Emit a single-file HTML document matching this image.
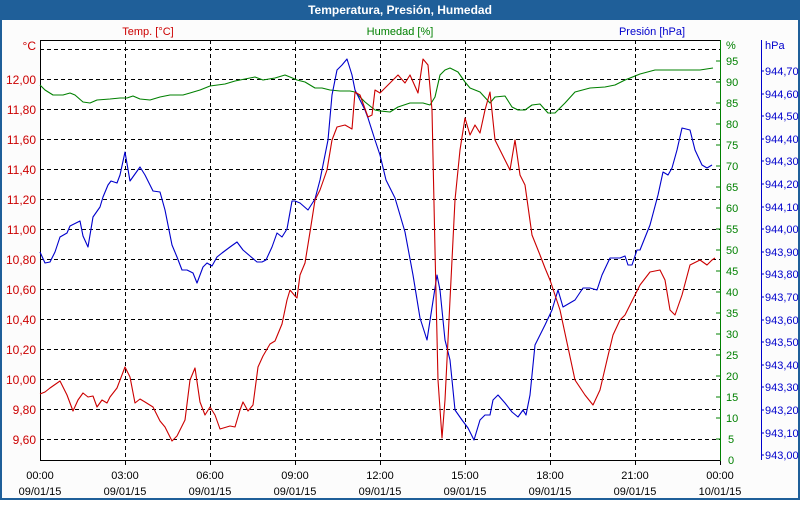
<!DOCTYPE html>
<html><head><style>
html,body{margin:0;padding:0;}
body{width:800px;height:500px;overflow:hidden;background:#fff;font-family:"Liberation Sans",sans-serif;}
</style></head><body>
<svg width="800" height="500" xmlns="http://www.w3.org/2000/svg" font-family="Liberation Sans, sans-serif" font-size="11">
<rect x="0" y="0" width="800" height="500" fill="#1f5f99"/>
<rect x="2" y="20" width="796" height="478" fill="#fcfcfc"/>
<text x="400" y="14" fill="#fff" font-weight="bold" font-size="12" text-anchor="middle">Temperatura, Presión, Humedad</text>
<rect x="40" y="40" width="680" height="420" fill="#fff"/>
<g stroke="#000" stroke-dasharray="4,3" stroke-width="1">
<line x1="40" y1="49.5" x2="720" y2="49.5"/><line x1="40" y1="79.5" x2="720" y2="79.5"/>
<line x1="40" y1="109.5" x2="720" y2="109.5"/><line x1="40" y1="139.5" x2="720" y2="139.5"/>
<line x1="40" y1="169.5" x2="720" y2="169.5"/><line x1="40" y1="199.5" x2="720" y2="199.5"/>
<line x1="40" y1="229.5" x2="720" y2="229.5"/><line x1="40" y1="259.5" x2="720" y2="259.5"/>
<line x1="40" y1="289.5" x2="720" y2="289.5"/><line x1="40" y1="319.5" x2="720" y2="319.5"/>
<line x1="40" y1="349.5" x2="720" y2="349.5"/><line x1="40" y1="379.5" x2="720" y2="379.5"/>
<line x1="40" y1="409.5" x2="720" y2="409.5"/><line x1="40" y1="439.5" x2="720" y2="439.5"/>
<line x1="125.5" y1="40" x2="125.5" y2="460"/><line x1="210.5" y1="40" x2="210.5" y2="460"/>
<line x1="295.5" y1="40" x2="295.5" y2="460"/><line x1="380.5" y1="40" x2="380.5" y2="460"/>
<line x1="465.5" y1="40" x2="465.5" y2="460"/><line x1="550.5" y1="40" x2="550.5" y2="460"/>
<line x1="635.5" y1="40" x2="635.5" y2="460"/>
</g>
<g stroke="#000"><line x1="40.5" y1="40" x2="40.5" y2="461"/><line x1="40" y1="460.5" x2="720" y2="460.5"/><line x1="40" y1="40.5" x2="720" y2="40.5"/></g>
<g stroke="#000">
<line x1="125.5" y1="460" x2="125.5" y2="465"/><line x1="210.5" y1="460" x2="210.5" y2="465"/><line x1="295.5" y1="460" x2="295.5" y2="465"/><line x1="380.5" y1="460" x2="380.5" y2="465"/><line x1="465.5" y1="460" x2="465.5" y2="465"/><line x1="550.5" y1="460" x2="550.5" y2="465"/><line x1="635.5" y1="460" x2="635.5" y2="465"/><line x1="720.5" y1="460" x2="720.5" y2="465"/>
</g>
<line x1="720.5" y1="40" x2="720.5" y2="461" stroke="#008000"/>
<line x1="761.5" y1="40" x2="761.5" y2="460" stroke="#0000cc"/>
<g fill="#cc0000" text-anchor="end" font-size="12">
<text x="36" y="50">°C</text>
<text x="36" y="84">12,00</text><text x="36" y="114">11,80</text><text x="36" y="144">11,60</text><text x="36" y="174">11,40</text><text x="36" y="204">11,20</text><text x="36" y="234">11,00</text><text x="36" y="264">10,80</text><text x="36" y="294">10,60</text><text x="36" y="324">10,40</text><text x="36" y="354">10,20</text><text x="36" y="384">10,00</text><text x="36" y="414">9,80</text><text x="36" y="444">9,60</text>
</g>
<text x="148" y="35" fill="#cc0000" text-anchor="middle">Temp. [°C]</text>
<text x="400" y="35" fill="#008000" text-anchor="middle">Humedad [%]</text>
<text x="652" y="35" fill="#0000cc" text-anchor="middle">Presión [hPa]</text>
<g fill="#008000" font-size="11">
<text x="726" y="49">%</text>
<text x="726" y="65">95</text><text x="726" y="86">90</text><text x="726" y="107">85</text><text x="726" y="128">80</text><text x="726" y="149">75</text><text x="726" y="170">70</text><text x="726" y="191">65</text><text x="726" y="212">60</text><text x="726" y="233">55</text><text x="726" y="254">50</text><text x="726" y="275">45</text><text x="726" y="296">40</text><text x="726" y="317">35</text><text x="726" y="338">30</text><text x="726" y="359">25</text><text x="726" y="380">20</text><text x="726" y="401">15</text><text x="726" y="422">10</text><text x="728" y="443">5</text><text x="728" y="464">0</text>
</g>
<g stroke="#008000">
<line x1="720" y1="61" x2="716" y2="61"/><line x1="720" y1="82" x2="716" y2="82"/><line x1="720" y1="103" x2="716" y2="103"/><line x1="720" y1="124" x2="716" y2="124"/><line x1="720" y1="145" x2="716" y2="145"/><line x1="720" y1="166" x2="716" y2="166"/><line x1="720" y1="187" x2="716" y2="187"/><line x1="720" y1="208" x2="716" y2="208"/><line x1="720" y1="229" x2="716" y2="229"/><line x1="720" y1="250" x2="716" y2="250"/><line x1="720" y1="271" x2="716" y2="271"/><line x1="720" y1="292" x2="716" y2="292"/><line x1="720" y1="313" x2="716" y2="313"/><line x1="720" y1="334" x2="716" y2="334"/><line x1="720" y1="355" x2="716" y2="355"/><line x1="720" y1="376" x2="716" y2="376"/><line x1="720" y1="397" x2="716" y2="397"/><line x1="720" y1="418" x2="716" y2="418"/><line x1="720" y1="439" x2="716" y2="439"/>
</g>
<g fill="#0000cc" font-size="11">
<text x="765" y="49">hPa</text>
<text x="765" y="75">944,70</text><text x="765" y="98">944,60</text><text x="765" y="120">944,50</text><text x="765" y="143">944,40</text><text x="765" y="165">944,30</text><text x="765" y="188">944,20</text><text x="765" y="211">944,10</text><text x="765" y="233">944,00</text><text x="765" y="256">943,90</text><text x="765" y="278">943,80</text><text x="765" y="301">943,70</text><text x="765" y="324">943,60</text><text x="765" y="346">943,50</text><text x="765" y="369">943,40</text><text x="765" y="391">943,30</text><text x="765" y="414">943,20</text><text x="765" y="437">943,10</text><text x="765" y="459">943,00</text>
</g>
<g stroke="#0000cc">
<line x1="761" y1="71" x2="764" y2="71"/><line x1="761" y1="94" x2="764" y2="94"/><line x1="761" y1="116" x2="764" y2="116"/><line x1="761" y1="139" x2="764" y2="139"/><line x1="761" y1="161" x2="764" y2="161"/><line x1="761" y1="184" x2="764" y2="184"/><line x1="761" y1="207" x2="764" y2="207"/><line x1="761" y1="229" x2="764" y2="229"/><line x1="761" y1="252" x2="764" y2="252"/><line x1="761" y1="274" x2="764" y2="274"/><line x1="761" y1="297" x2="764" y2="297"/><line x1="761" y1="320" x2="764" y2="320"/><line x1="761" y1="342" x2="764" y2="342"/><line x1="761" y1="365" x2="764" y2="365"/><line x1="761" y1="387" x2="764" y2="387"/><line x1="761" y1="410" x2="764" y2="410"/><line x1="761" y1="433" x2="764" y2="433"/><line x1="761" y1="455" x2="764" y2="455"/>
</g>
<g fill="#000" text-anchor="middle" font-size="11">
<text x="40" y="479">00:00</text><text x="40" y="495">09/01/15</text>
<text x="125" y="479">03:00</text><text x="125" y="495">09/01/15</text>
<text x="210" y="479">06:00</text><text x="210" y="495">09/01/15</text>
<text x="295" y="479">09:00</text><text x="295" y="495">09/01/15</text>
<text x="380" y="479">12:00</text><text x="380" y="495">09/01/15</text>
<text x="465" y="479">15:00</text><text x="465" y="495">09/01/15</text>
<text x="550" y="479">18:00</text><text x="550" y="495">09/01/15</text>
<text x="635" y="479">21:00</text><text x="635" y="495">09/01/15</text>
<text x="720" y="479">00:00</text><text x="720" y="495">10/01/15</text>
</g>
<g fill="none" stroke-width="1.1" stroke-linejoin="round">
<polyline stroke="#008000" points="40,85 45,90 53,95 63,95 70,93 75,95 83,102 90,103 97,100 110,99 120,98 127,98 133,96 140,99 150,100 160,97 170,95 183,95 190,93 200,90 210,86 225,84 235,81 245,79 255,77 263,80 275,78 285,75 290,77 297,80 305,82 315,88 322,88 330,90 340,91 350,91 355,92 360,97 365,102 370,106 375,110 380,111 390,112 398,107 410,103 423,103 430,105 435,97 440,75 445,70 450,68 458,72 465,82 470,88 480,92 490,103 495,97 505,96 512,107 518,110 525,110 532,105 540,104 548,113 555,113 565,103 575,92 590,88 605,87 615,85 625,80 640,74 655,70 680,70 700,70 713,68"/>
<polyline stroke="#0000cc" points="40,252 45,263 50,262 55,252 60,237 67,233 70,226 78,222 80,221 83,236 88,247 93,217 100,207 103,197 108,185 111,181 117,183 120,175 125,152 130,181 140,167 145,175 153,191 160,192 165,210 172,245 177,257 182,270 187,270 193,273 197,283 203,267 207,263 212,266 217,257 222,253 230,247 237,242 243,250 250,256 257,262 262,262 266,260 272,247 277,233 282,237 287,229 292,201 295,201 300,203 308,210 315,199 320,180 328,140 332,95 337,70 342,65 347,59 352,75 355,90 360,100 365,110 368,118 375,140 380,155 386,180 395,198 405,232 413,275 420,318 427,340 437,275 440,290 445,340 450,360 455,410 462,420 468,428 474,440 480,420 485,415 490,415 493,400 498,395 505,403 512,412 518,417 523,410 526,415 530,395 535,345 545,325 552,310 558,290 563,307 575,300 583,288 590,288 597,290 602,275 610,258 620,258 625,256 628,265 632,265 637,250 640,250 650,225 658,195 663,172 668,175 672,168 677,150 682,128 690,130 695,150 702,165 707,168 712,165"/>
<polyline stroke="#cc0000" points="40,394 45,392 50,388 60,381 67,395 73,411 78,400 83,393 88,397 93,396 97,407 102,400 107,403 110,397 117,388 125,367 130,377 135,403 140,399 145,402 153,407 160,421 165,427 172,441 177,436 185,420 190,380 195,368 200,402 205,415 210,407 215,415 220,429 230,426 235,427 240,410 243,402 248,411 253,405 258,367 263,356 270,344 275,341 282,324 287,300 290,290 295,296 297,298 300,275 305,263 310,232 315,200 320,190 327,170 332,140 337,127 345,125 352,129 355,92 360,95 368,117 372,115 375,90 380,93 390,83 398,75 405,83 410,75 418,93 423,59 428,65 432,110 435,250 438,380 442,438 445,400 450,300 455,200 460,150 465,118 470,135 475,125 480,133 485,110 490,92 495,140 510,170 515,140 520,175 525,185 532,235 540,255 545,268 550,280 560,310 575,380 585,395 593,405 600,390 607,360 613,335 620,320 625,315 640,285 650,272 660,270 665,280 670,310 675,315 682,295 690,265 700,260 707,265 712,260 715,258"/>
</g>
</svg>
</body></html>
